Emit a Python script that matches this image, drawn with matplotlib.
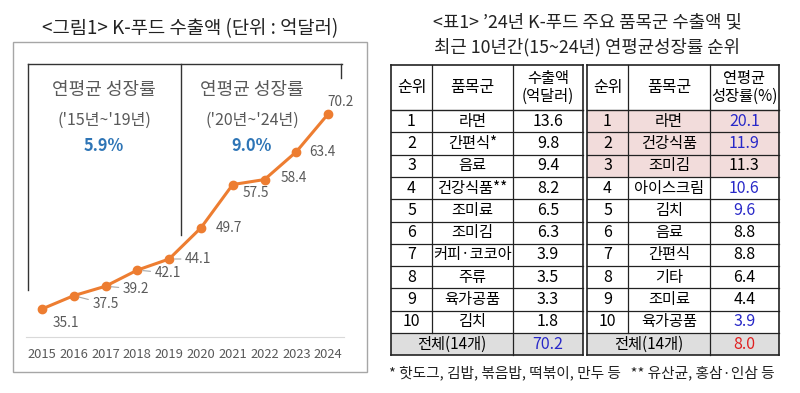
import numpy as np
import matplotlib.pyplot as plt
from matplotlib.patches import Rectangle

plt.rcParams['font.family'] = ['Noto Sans CJK KR', 'DejaVu Sans']

# 그림1 데이터
years = ['2015', '2016', '2017', '2018', '2019', '2020', '2021', '2022', '2023', '2024']
exports = [35.1, 37.5, 39.2, 42.1, 44.1, 49.7, 57.5, 58.4, 63.4, 70.2]
# 라벨 위치 (offset points)
label_offsets = [(17, -10), (23, -6), (22, -2), (22, -2), (21, 0), (20, 0), (17, -6), (21, 1), (19, 0), (9, 9)]

# 표1 데이터
ranks = [str(i) for i in range(1, 11)]
items_export = ['라면', '간편식*', '음료', '건강식품**', '조미료', '조미김', '커피·코코아', '주류', '육가공품', '김치']
values_export = [13.6, 9.8, 9.4, 8.2, 6.5, 6.3, 3.9, 3.5, 3.3, 1.8]
total_export = 70.2
items_growth = ['라면', '건강식품', '조미김', '아이스크림', '김치', '음료', '간편식', '기타', '조미료', '육가공품']
values_growth = [20.1, 11.9, 11.3, 10.6, 9.6, 8.8, 8.8, 6.4, 4.4, 3.9]
total_growth = 8.0
blue_growth = [True, True, False, True, True, False, False, False, False, True]

gray_txt = '#595959'
blue_txt = '#2828c8'

fig = plt.figure(figsize=(8, 3.93), dpi=100)
bg = fig.add_axes([0, 0, 1, 1], zorder=0)
bg.set_xlim(0, 800)
bg.set_ylim(393, 0)
bg.axis('off')

# ---- 왼쪽 그림 ----
bg.text(190, 29, '<그림1> K-푸드 수출액 (단위 : 억달러)', ha='center', va='center', fontsize=13.5, color='#222222')
bg.add_patch(Rectangle((13, 42), 354, 330, fill=False, ec='#a6a6a6', lw=1))
bg.plot([28, 342], [64, 64], color='#333333', lw=1)
bg.plot([28, 28], [64, 290], color='#333333', lw=1)
bg.plot([181, 181], [64, 235], color='#333333', lw=1)
bg.plot([341, 341], [64, 78], color='#333333', lw=1)
for cx, period, rate in [(104, "('15년~'19년)", '5.9%'), (252, "('20년~'24년)", '9.0%')]:
    bg.text(cx, 90, '연평균 성장률', ha='center', va='center', fontsize=13, color=gray_txt)
    bg.text(cx, 120, period, ha='center', va='center', fontsize=11.5, color=gray_txt)
    bg.text(cx, 146, rate, ha='center', va='center', fontsize=11.8, color='#2e75b6', fontweight='bold')

ax = fig.add_axes([26 / 800, (393 - 337) / 393, (344 - 26) / 800, (337 - 64) / 393], zorder=2)
ax.patch.set_alpha(0)
x = np.arange(len(years))
ax.plot(x, exports, color='#ed7d31', lw=2.2, marker='o', ms=6)
ax.set_xlim(-0.5, len(years) - 0.5)
ax.set_ylim(30.06, 79.2)
ax.set_xticks(x)
ax.set_xticklabels(years, fontsize=9.3, color=gray_txt)
ax.tick_params(axis='x', length=0, pad=8)
ax.set_yticks([])
for s in ['left', 'right', 'top']:
    ax.spines[s].set_visible(False)
ax.spines['bottom'].set_color('#d9d9d9')
for i, (v, off) in enumerate(zip(exports, label_offsets)):
    if 1 <= i <= 4:
        ax.annotate(f'{v}', (i, v), xytext=off, textcoords='offset points', ha='center', va='center',
                    fontsize=9.8, color=gray_txt,
                    arrowprops=dict(arrowstyle='-', color='#a6a6a6', lw=0.8, shrinkA=1, shrinkB=4))
    else:
        ax.annotate(f'{v}', (i, v), xytext=off, textcoords='offset points', ha='center', va='center',
                    fontsize=9.8, color=gray_txt)

# ---- 오른쪽 표 ----
bg.text(587, 22, '<표1> ’24년 K-푸드 주요 품목군 수출액 및', ha='center', va='center', fontsize=12.8, color='#222222')
bg.text(587, 47, '최근 10년간(15~24년) 연평균성장률 순위', ha='center', va='center', fontsize=12.8, color='#222222')

top, head_bot, row_h = 65, 110, 22.3
n = len(ranks)
bottom = head_bot + row_h * (n + 1)
tables = [
    ([391, 432, 513, 583], '수출액\n(억달러)', items_export, values_export, total_export,
     [False] * n, ['black'] * n, blue_txt),
    ([587, 628, 710, 779], '연평균\n성장률(%)', items_growth, values_growth, total_growth,
     [i < 3 for i in range(n)], [blue_txt if b else 'black' for b in blue_growth], '#e02020'),
]
fs = 11
for cols, head3, items, vals, total, pink, vcolors, tcolor in tables:
    # 배경
    for r in range(n):
        if pink[r]:
            bg.add_patch(Rectangle((cols[0], head_bot + r * row_h), cols[3] - cols[0], row_h,
                                   fc='#f2dcdb', ec='none'))
    bg.add_patch(Rectangle((cols[0], head_bot + n * row_h), cols[3] - cols[0], row_h, fc='#dedede', ec='none'))
    # 선
    bg.plot([cols[0], cols[3]], [top, top], color='#222222', lw=1.2)
    bg.plot([cols[0], cols[3]], [bottom, bottom], color='#222222', lw=1.2)
    bg.plot([cols[0], cols[3]], [head_bot, head_bot], color='#222222', lw=1)
    for r in range(1, n + 1):
        yy = head_bot + r * row_h
        bg.plot([cols[0], cols[3]], [yy, yy], color='#222222', lw=0.9)
    bg.plot([cols[0], cols[0]], [top, bottom], color='#222222', lw=1.2)
    bg.plot([cols[3], cols[3]], [top, bottom], color='#222222', lw=1.2)
    bg.plot([cols[1], cols[1]], [top, head_bot + n * row_h], color='#222222', lw=0.9)
    bg.plot([cols[2], cols[2]], [top, bottom], color='#222222', lw=0.9)
    # 글자
    cx = [(cols[i] + cols[i + 1]) / 2 for i in range(3)]
    hy = (top + head_bot) / 2
    bg.text(cx[0], hy, '순위', ha='center', va='center', fontsize=fs + 0.5)
    bg.text(cx[1], hy, '품목군', ha='center', va='center', fontsize=fs + 0.5)
    bg.text(cx[2], hy, head3, ha='center', va='center', fontsize=fs, linespacing=1.0)
    for r in range(n):
        yy = head_bot + (r + 0.5) * row_h
        bg.text(cx[0], yy, ranks[r], ha='center', va='center', fontsize=fs + 0.5)
        bg.text(cx[1], yy, items[r], ha='center', va='center', fontsize=fs)
        bg.text(cx[2], yy, f'{vals[r]:.1f}', ha='center', va='center', fontsize=fs + 0.5, color=vcolors[r])
    yy = head_bot + (n + 0.5) * row_h
    bg.text((cols[0] + cols[2]) / 2, yy, '전체(14개)', ha='center', va='center', fontsize=fs)
    bg.text(cx[2], yy, f'{total:.1f}', ha='center', va='center', fontsize=fs + 0.5, color=tcolor)

bg.text(389, 373, '* 핫도그, 김밥, 볶음밥, 떡볶이, 만두 등   ** 유산균, 홍삼·인삼 등', ha='left', va='center',
        fontsize=10.6, color='#222222')

fig.savefig('out.png', dpi=100)
